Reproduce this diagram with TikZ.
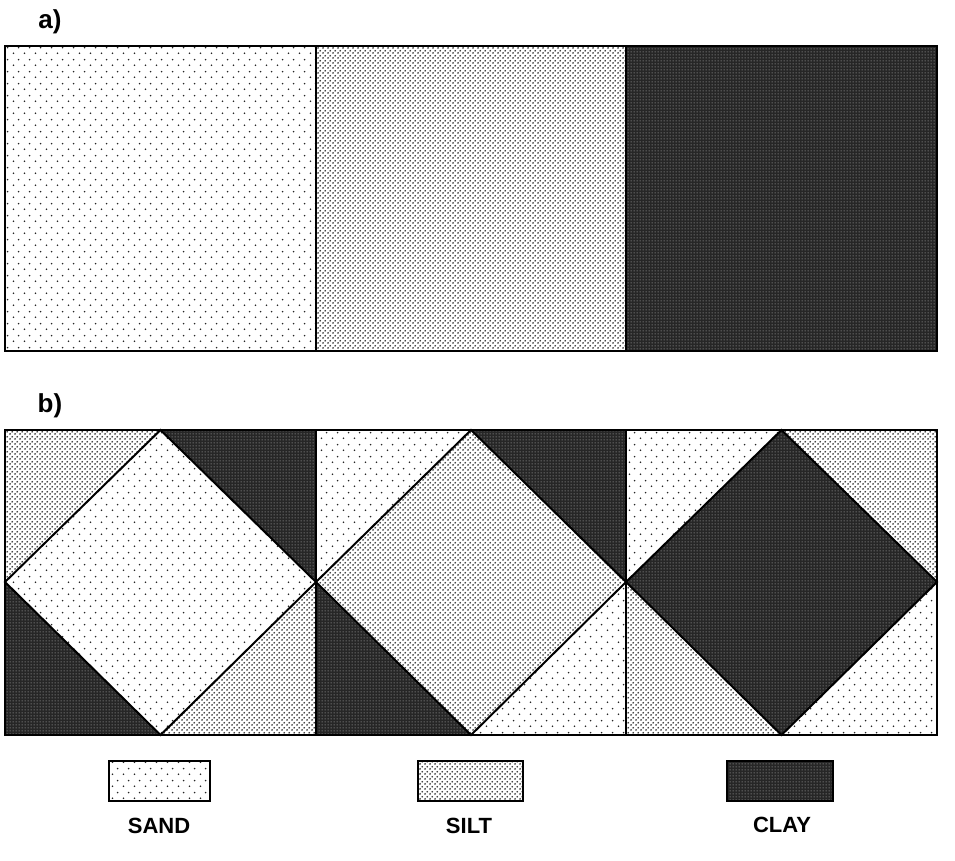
\documentclass[tikz,border=0pt]{standalone}
\usepackage{fontspec}
\setmainfont{Liberation Sans}
\usetikzlibrary{patterns}

\pgfdeclarepatternformonly{sandp}{\pgfqpoint{0pt}{0pt}}{\pgfqpoint{11pt}{12pt}}{\pgfqpoint{11pt}{12pt}}{%
  \pgfpathcircle{\pgfqpoint{2.75pt}{3pt}}{0.95pt}%
  \pgfpathcircle{\pgfqpoint{8.25pt}{9pt}}{0.95pt}%
  \pgfusepath{fill}}
\pgfdeclarepatternformonly{siltp}{\pgfqpoint{0pt}{0pt}}{\pgfqpoint{4.6pt}{4.6pt}}{\pgfqpoint{4.6pt}{4.6pt}}{%
  \pgfpathcircle{\pgfqpoint{1.15pt}{1.15pt}}{1.0pt}%
  \pgfpathcircle{\pgfqpoint{3.45pt}{3.45pt}}{1.0pt}%
  \pgfusepath{fill}}
\pgfdeclarepatternformonly{clayp}{\pgfqpoint{0pt}{0pt}}{\pgfqpoint{3pt}{3pt}}{\pgfqpoint{3pt}{3pt}}{%
  \pgfpathcircle{\pgfqpoint{1.5pt}{1.5pt}}{0.75pt}%
  \pgfusepath{fill}}

\tikzset{
  sand/.style={pattern=sandp, pattern color=black!85},
  silt/.style={pattern=siltp, pattern color=black!80},
  clay/.style={preaction={fill=black!85}, pattern=clayp, pattern color=black!40},
  frame/.style={draw=black, line width=1.2pt},
  edge/.style={draw=black, line width=2pt, line join=miter},
  lab/.style={font=\bfseries\fontsize{26}{30}\selectfont, inner sep=0pt},
  leg/.style={font=\bfseries\fontsize{22}{26}\selectfont, inner sep=0pt}
}

\begin{document}
\begin{tikzpicture}[x=1pt,y=-1pt]
\useasboundingbox (0,0) rectangle (955,860);
\fill[white] (0,0) rectangle (955,860);

% labels
\node[lab] (la) at (50,22) {a)};
\node[lab] (lb) at (50,406) {b)};

% panel a
\fill[sand] (5,46) rectangle (316,351);
\fill[silt] (316,46) rectangle (626,351);
\fill[clay] (626,46) rectangle (937,351);
\draw[frame] (5,46) rectangle (316,351);
\draw[frame] (316,46) rectangle (626,351);
\draw[frame] (626,46) rectangle (937,351);

% panel b coordinates
\coordinate (t1) at (160.5,430); \coordinate (t2) at (471,430); \coordinate (t3) at (781.5,430);
\coordinate (b1) at (160.5,735); \coordinate (b2) at (471,735); \coordinate (b3) at (781.5,735);
\coordinate (m0) at (5,582); \coordinate (m1) at (316,582); \coordinate (m2) at (626,582); \coordinate (m3) at (937,582);
\coordinate (c0t) at (5,430); \coordinate (c1t) at (316,430); \coordinate (c2t) at (626,430); \coordinate (c3t) at (937,430);
\coordinate (c0b) at (5,735); \coordinate (c1b) at (316,735); \coordinate (c2b) at (626,735); \coordinate (c3b) at (937,735);

% column 1
\fill[silt] (c0t) -- (t1) -- (m0) -- cycle;
\fill[clay] (t1) -- (c1t) -- (m1) -- cycle;
\fill[clay] (m0) -- (b1) -- (c0b) -- cycle;
\fill[silt] (m1) -- (c1b) -- (b1) -- cycle;
\fill[sand] (t1) -- (m1) -- (b1) -- (m0) -- cycle;
% column 2
\fill[sand] (c1t) -- (t2) -- (m1) -- cycle;
\fill[clay] (t2) -- (c2t) -- (m2) -- cycle;
\fill[clay] (m1) -- (b2) -- (c1b) -- cycle;
\fill[sand] (m2) -- (c2b) -- (b2) -- cycle;
\fill[silt] (t2) -- (m2) -- (b2) -- (m1) -- cycle;
% column 3
\fill[sand] (c2t) -- (t3) -- (m2) -- cycle;
\fill[silt] (t3) -- (c3t) -- (m3) -- cycle;
\fill[silt] (m2) -- (b3) -- (c2b) -- cycle;
\fill[sand] (m3) -- (c3b) -- (b3) -- cycle;
\fill[clay] (t3) -- (m3) -- (b3) -- (m2) -- cycle;

\draw[frame] (c0t) rectangle (c1b);
\draw[frame] (c1t) rectangle (c2b);
\draw[frame] (c2t) rectangle (c3b);
\draw[edge] (t1) -- (m1) -- (b1) -- (m0) -- cycle;
\draw[edge] (t2) -- (m2) -- (b2) -- (m1) -- cycle;
\draw[edge] (t3) -- (m3) -- (b3) -- (m2) -- cycle;

% legend
\fill[sand] (109,761) rectangle (210,801);
\draw[frame] (109,761) rectangle (210,801);
\fill[silt] (418,761) rectangle (523,801);
\draw[frame] (418,761) rectangle (523,801);
\fill[clay] (727,761) rectangle (833,801);
\draw[frame] (727,761) rectangle (833,801);
\node[leg] (lsand) at (159,826) {SAND};
\node[leg] (lsilt) at (469,826) {SILT};
\node[leg] (lclay) at (782,825) {CLAY};
\end{tikzpicture}
\end{document}
